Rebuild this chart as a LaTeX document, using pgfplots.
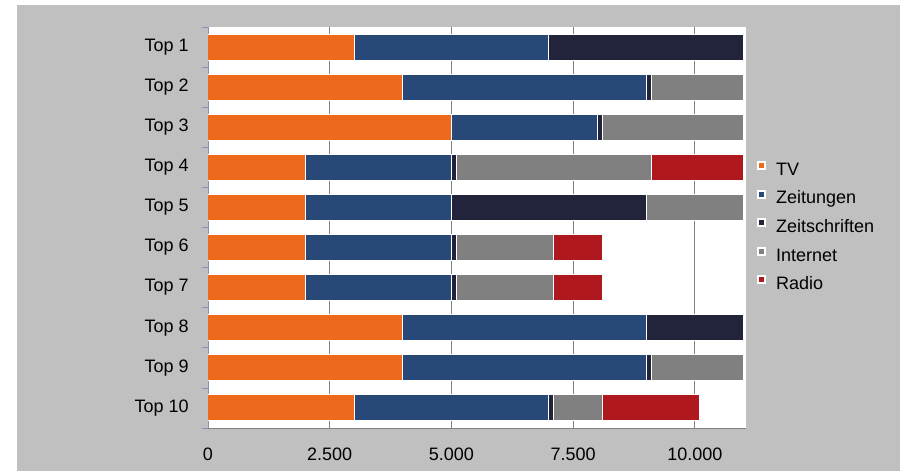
\documentclass[border=0pt]{standalone}
\usepackage{pgfplots}
\pgfplotsset{compat=1.18}
\usepackage{fontspec}
\setmainfont{Liberation Sans}

\definecolor{bggray}{RGB}{192,192,192}
\definecolor{tvorange}{RGB}{237,106,28}
\definecolor{ztgblue}{RGB}{40,73,120}
\definecolor{zsnavy}{RGB}{33,36,58}
\definecolor{netgray}{RGB}{128,128,128}
\definecolor{radiored}{RGB}{175,25,30}
\definecolor{axisblue}{RGB}{130,150,175}

\begin{document}
\begin{tikzpicture}
% page and grey chart area (1px = 1bp, origin at the plot's lower left corner)
\fill[white] (-208bp,-43bp) rectangle (695bp,428bp);
\fill[bggray] (-191bp,-43bp) rectangle (692bp,423bp);
\begin{axis}[
    xbar stacked,
    scale only axis,
    width=538bp,
    height=401bp,
    axis background/.style={fill=white},
    font=\fontsize{18bp}{21bp}\selectfont,
    xmin=0, xmax=11050,
    ymin=0.5, ymax=10.5,
    y dir=reverse,
    bar width=26bp,
    axis x line*=bottom,
    axis y line*=left,
    x axis line style={draw=netgray, -},
    y axis line style={draw=axisblue, -},
    xtick={0,2500,5000,7500,10000},
    scaled x ticks=false,
    xticklabel={\pgfmathprintnumber[fixed,precision=0,1000 sep={.},assume math mode=true]{\tick}},
    xmajorgrids,
    major grid style={draw=netgray, line width=0.8bp},
    major x tick style={draw=none},
    xticklabel style={inner sep=0pt, yshift=-15bp},
    ytick={1,...,10},
    yticklabels={Top 1,Top 2,Top 3,Top 4,Top 5,Top 6,Top 7,Top 8,Top 9,Top 10},
    major y tick style={draw=none},
    minor ytick={0.5,1.5,...,10.5},
    minor y tick style={draw=axisblue, line width=0.8bp},
    minor tick length=6bp,
    tick align=outside,
    yticklabel style={inner sep=0pt, xshift=-15bp},
    every axis plot/.append style={draw=white, line width=1bp},
    legend style={
        at={(1.0204,0.666)}, anchor=north west,
        draw=none, fill=none, inner sep=0pt,
        row sep=10.8bp, column sep=10bp,
        nodes={inner sep=0pt, text height=12bp, text depth=3.5bp},
        font=\fontsize{18bp}{21bp}\selectfont,
    },
    legend cell align=left,
    legend image code/.code={
        \fill[white] (-1bp,1.5bp) rectangle (7bp,9.5bp);
        \fill[#1] (0bp,2.5bp) rectangle (6bp,8.5bp);
    },
]
\addplot[fill=tvorange] coordinates {
  (3000,1) (4000,2) (5000,3) (2000,4) (2000,5)
  (2000,6) (2000,7) (4000,8) (4000,9) (3000,10)
};
\addlegendentry{TV}
\addplot[fill=ztgblue] coordinates {
  (4000,1) (5000,2) (3000,3) (3000,4) (3000,5)
  (3000,6) (3000,7) (5000,8) (5000,9) (4000,10)
};
\addlegendentry{Zeitungen}
\addplot[fill=zsnavy] coordinates {
  (4000,1) (100,2) (100,3) (100,4) (4000,5)
  (100,6) (100,7) (2000,8) (100,9) (100,10)
};
\addlegendentry{Zeitschriften}
\addplot[fill=netgray] coordinates {
  (0,1) (1900,2) (2900,3) (4000,4) (2000,5)
  (2000,6) (2000,7) (0,8) (1900,9) (1000,10)
};
\addlegendentry{Internet}
\addplot[fill=radiored] coordinates {
  (0,1) (0,2) (0,3) (1900,4) (0,5)
  (1000,6) (1000,7) (0,8) (0,9) (2000,10)
};
\addlegendentry{Radio}
\end{axis}
\end{tikzpicture}
\end{document}
